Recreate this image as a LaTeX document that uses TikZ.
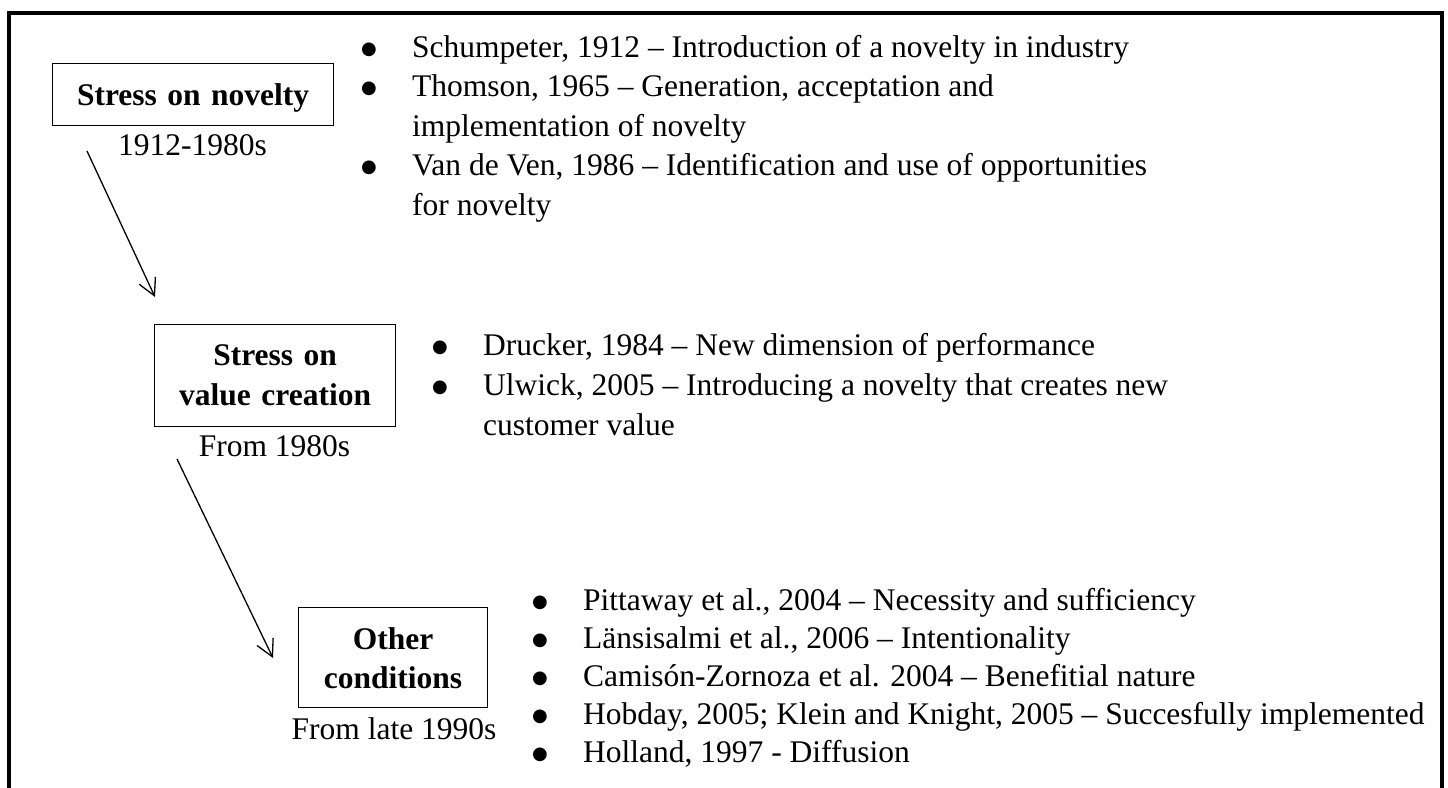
\documentclass[tikz,border=0pt]{standalone}
\usepackage{fontspec}
\setmainfont{Liberation Serif}
\newfontfamily\symfont{DejaVu Sans}
\usetikzlibrary{arrows.meta}

% round bullet hung in the left margin of a list line
\newcommand\itembullet{\llap{\makebox[51pt][l]{\raisebox{2.8pt}{\symfont\fontsize{18}{18}\selectfont ●}}}}

\begin{document}
\begin{tikzpicture}[x=1pt,y=-1pt,
  body/.style={inner sep=0pt, font=\fontsize{31.5}{39.5}\selectfont},
  stagebox/.style={draw, line width=1.2pt, inner sep=0pt, align=center,
    anchor=north west, font=\fontsize{31.5}{40}\selectfont\bfseries},
  conn/.style={line width=1.3pt, -{Straight Barb[angle=56:19pt]}},
  outline/.style={line width=4pt}]
\useasboundingbox (0,0) rectangle (1448,787);

% outer frame, open at the bottom
\draw[outline] (9,800) -- (9,13) -- (1442,13) -- (1442,800);

% stages
\node[stagebox, text width=281pt, text height=42pt, text depth=20pt]
  (novelty) at (52,63) {Stress on novelty};
\node[body, anchor=base] (novdate) at (192.5,155) {1912-1980s};

\node[stagebox, text width=241pt, text height=41pt, text depth=61pt]
  (value) at (154,324) {Stress on\\value creation};
\node[body, anchor=base] (valdate) at (274.5,456) {From 1980s};

\node[stagebox, font=\fontsize{31.5}{39}\selectfont\bfseries,
  text width=189pt, text height=42pt, text depth=58pt]
  (other) at (298,607) {Other\\conditions};
\node[body, anchor=base] (othdate) at (394,739) {From late 1990s};

% literature lists (placed by the baseline of their last line)
\node[body, anchor=base west, align=left] (novlist) at (412,215)
  {\itembullet Schumpeter, 1912 – Introduction of a novelty in industry\\
   \itembullet Thomson, 1965 – Generation, acceptation and\\
   implementation of novelty\\
   \itembullet Van de Ven, 1986 – Identification and use of opportunities\\
   for novelty};

\node[body, anchor=base west, align=left, font=\fontsize{31.5}{40}\selectfont]
  (vallist) at (483,435)
  {\itembullet Drucker, 1984 – New dimension of performance\\
   \itembullet Ulwick, 2005 – Introducing a novelty that creates new\\
   customer value};

\node[body, anchor=base west, align=left, font=\fontsize{31.5}{38}\selectfont]
  (othlist) at (583,762)
  {\itembullet Pittaway et al., 2004 – Necessity and sufficiency\\
   \itembullet Länsisalmi et al., 2006 – Intentionality\\
   \itembullet Camisón-Zornoza et al. 2004 – Benefitial nature\\
   \itembullet Hobday, 2005; Klein and Knight, 2005 – Succesfully implemented\\
   \itembullet Holland, 1997 - Diffusion};

% transitions between stages
\coordinate (n2vstart) at (87,151);
\coordinate (n2vend) at (155,297);
\coordinate (v2ostart) at (177,459);
\coordinate (v2oend) at (273,658);
\draw[conn] (n2vstart) -- (n2vend);
\draw[conn] (v2ostart) -- (v2oend);
\end{tikzpicture}
\end{document}
